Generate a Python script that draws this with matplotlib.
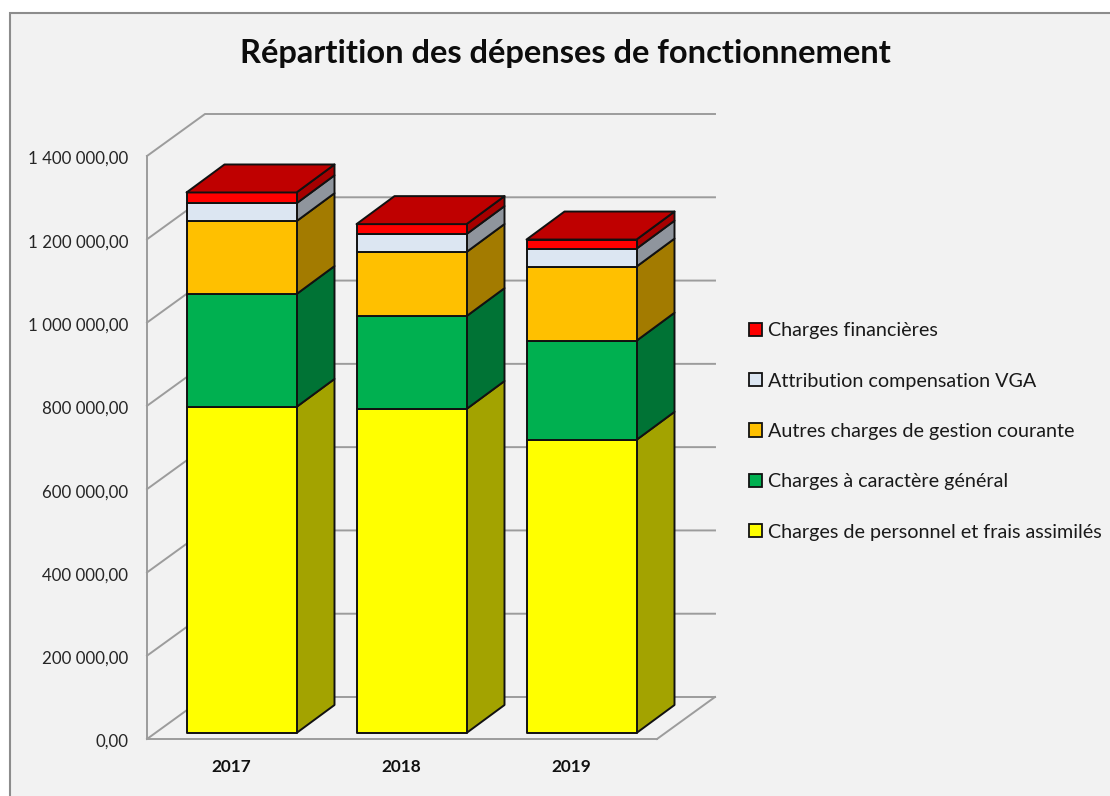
import matplotlib
matplotlib.use("Agg")
import matplotlib.pyplot as plt
from matplotlib.patches import Polygon, Patch, Rectangle
from matplotlib.ticker import FuncFormatter
from matplotlib.transforms import ScaledTranslation

plt.rcParams['font.family'] = ['Lato', 'DejaVu Sans']

years = ['2017', '2018', '2019']
series_names = ['Charges de personnel et frais assimilés', 'Charges à caractère général',
                'Autres charges de gestion courante', 'Attribution compensation VGA', 'Charges financières']
personnel = [783000, 778000, 704000]
general = [271000, 223000, 238000]
gestion = [175000, 154000, 178000]
attribution = [43000, 43000, 43000]
financieres = [26000, 24000, 22000]
y_ticks = [0, 200000, 400000, 600000, 800000, 1000000, 1200000, 1400000]

front_colors = ['#FFFF00', '#00B050', '#FFC000', '#DCE6F2', '#FF0000']
side_colors = ['#A3A300', '#007335', '#A37B00', '#8F959D', '#A60000']
top_color = '#BF0000'
grid_color = '#9C9C9C'
edge = '#111111'

W, H = 1110, 796
fig = plt.figure(figsize=(W / 100, H / 100), dpi=100, facecolor='white')
fig.add_artist(Rectangle((10 / W, -0.05), 1.1, 1.05 - 13 / H, transform=fig.transFigure,
                         facecolor='#F2F2F2', edgecolor='#8C8C8C', linewidth=1.5, zorder=-1))

L, R, T, B = 147, 657, 156, 739
ax = fig.add_axes([L / W, 1 - B / H, (R - L) / W, (B - T) / H])
ax.set_xlim(0, 3)
ax.set_ylim(0, 1400000)
ax.patch.set_alpha(0)

xpx = 3 / (R - L)
ypx = 1400000 / (B - T)
wall_dx, wall_dy = 58 * xpx, 42 * ypx
bar_dx, bar_dy = 38 * xpx, 28 * ypx
bar_w = 110 * xpx
bar_off_x, bar_off_y = -45.5 * xpx, 6 * ypx

# walls and floor
for v in y_ticks:
    ax.plot([0, wall_dx, 3 + wall_dx], [v, v + wall_dy, v + wall_dy], color=grid_color,
            lw=1.4, clip_on=False, zorder=1, solid_joinstyle='miter')
ax.plot([3, 3 + wall_dx], [0, wall_dy], color=grid_color, lw=1.4, clip_on=False, zorder=1)

# bars
stacks = [personnel, general, gestion, attribution, financieres]
lw = 1.4
for i in range(len(years)):
    x0 = i + 0.5 + bar_off_x
    x1 = x0 + bar_w
    base = bar_off_y
    for s, vals in enumerate(stacks):
        y0, y1 = base, base + vals[i]
        ax.add_patch(Polygon([(x1, y0), (x1 + bar_dx, y0 + bar_dy), (x1 + bar_dx, y1 + bar_dy), (x1, y1)],
                             facecolor=side_colors[s], edgecolor=edge, lw=lw, clip_on=False, zorder=3,
                             joinstyle='round'))
        ax.add_patch(Polygon([(x0, y0), (x1, y0), (x1, y1), (x0, y1)],
                             facecolor=front_colors[s], edgecolor=edge, lw=lw, clip_on=False, zorder=4,
                             joinstyle='round'))
        base = y1
    ax.add_patch(Polygon([(x0, base), (x1, base), (x1 + bar_dx, base + bar_dy), (x0 + bar_dx, base + bar_dy)],
                         facecolor=top_color, edgecolor=edge, lw=lw, clip_on=False, zorder=4, joinstyle='round'))

ax.set_xticks([0.5, 1.5, 2.5])
ax.set_xticklabels(years, fontsize=12.4, fontweight='bold', color='#111111')
ax.set_yticks(y_ticks)
ax.yaxis.set_major_formatter(FuncFormatter(lambda v, p: f"{int(v):,}".replace(',', ' ') + ',00'))
ax.tick_params(axis='y', length=0, pad=13.5, labelsize=12.2, labelcolor='#262626')
ax.tick_params(axis='x', length=0, pad=14.5)
down = ScaledTranslation(0, -3 / 100, fig.dpi_scale_trans)
for lab in ax.get_yticklabels():
    lab.set_verticalalignment('center')
    lab.set_transform(lab.get_transform() + down)
left = ScaledTranslation(-1 / 100, 0, fig.dpi_scale_trans)
for lab in ax.get_xticklabels():
    lab.set_transform(lab.get_transform() + left)
for s in ['top', 'right']:
    ax.spines[s].set_visible(False)
for s in ['left', 'bottom']:
    ax.spines[s].set_color(grid_color)
    ax.spines[s].set_linewidth(1.4)

fig.text(565 / W, 1 - 54 / H, 'Répartition des dépenses de fonctionnement', ha='center', va='center',
         fontsize=23.5, fontweight='bold', color='#0D0D0D')

handles = [Patch(facecolor=front_colors[s], edgecolor=edge, lw=1.3, label=series_names[s])
           for s in range(4, -1, -1)]
fs = 14.2
fig.legend(handles=handles, loc='center left', bbox_to_anchor=(749 / W, 1 - 431.5 / H), frameon=False,
           fontsize=fs, labelcolor='#1A1A1A', borderpad=0, borderaxespad=0, handlelength=0.66, handleheight=0.66,
           handletextpad=0.32, labelspacing=1.69)

fig.savefig('out.png', dpi=100, facecolor=fig.get_facecolor())
